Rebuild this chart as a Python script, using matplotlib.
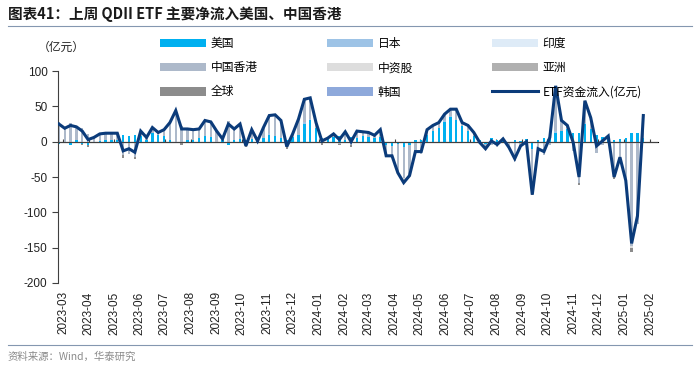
import numpy as np
import pandas as pd
import matplotlib
matplotlib.use("Agg")
import matplotlib.pyplot as plt
from matplotlib.patches import Patch
from matplotlib.lines import Line2D

plt.rcParams['font.family'] = ['Liberation Sans', 'Noto Sans CJK SC']
plt.rcParams['axes.unicode_minus'] = False

# weekly dates (Fridays)
weeks = pd.date_range('2023-02-24', periods=101, freq='7D')

# ETF 资金流入(亿元) - total line
etf_total = [25, 19, 23, 21, 15, 3, 6, 11, 12, 12, 12, -13, -10, -15, 15, 6, 20, 13, 17, 27,
             44, 18, 18, 17, 18, 30, 28, 15, 4, 25, 18, 25, -6, 17, 1, 20, 37, 38, 30, -7,
             11, 32, 60, 62, 27, 1, 5, 11, 3, 14, 0, 15, 14, 13, 9, 17, -20, -20, -44, -58,
             -48, -14, -14, 17, 23, 27, 39, 46, 46, 27, 23, 13, -1, -10, 1, -4, 4, -8, -24, -6,
             0, -75, -10, -14, 6, 79, 30, 23, -1, -50, 58, 34, -6, 1, 8, -50, -22, -55, -144, -105,
             37]

us = [-3, -2, -4, 2, -3, -5, -2, 1, 2, 3, 3, 10, 8, 9, 8, 3, 12, 10, 8, 2,
      0, -2, 3, 2, 5, 8, 6, -1, 3, -4, 2, 4, 2, 4, 3, 5, 10, 8, 5, 3,
      6, 10, 25, 30, 20, 5, 5, 6, 8, 3, 7, 5, 8, 6, 5, 6, -5, -6, -3, -8,
      -5, 2, 3, 10, 15, 20, 28, 35, 30, 22, 15, 8, 2, -3, 5, 3, 2, -2, 3, 1,
      4, -10, 3, 5, 10, 12, 15, 18, 12, 12, 25, 18, 10, 6, 4, 3, 4, 5, 12, 12,
      5]

hk = [28, 21, 27, 19, 20, 11, 8, 10, 10, 9, 9, -19, -18, -21, 7, 3, 8, 3, 9, 25,
      42, 22, 15, 15, 13, 22, 22, 16, 3, 29, 16, 21, -5, 13, -2, 15, 25, 30, 25, -7,
      5, 22, 32, 30, 7, -2, 0, 5, -3, 11, -4, 10, 6, 7, 4, 11, -13, -14, -38, -43,
      -43, -16, -17, 7, 8, 7, 8, 9, 16, 5, 8, 5, -3, -5, -4, -7, 2, -4, -27, -7,
      -4, -61, -13, -19, -4, 62, 15, 5, -13, -58, 30, 16, -16, -5, 4, -50, -26, -60, -147, -117,
      32]

japan = [0] * 101
india = [0] * 101
cn_stock = [0] * 101
asia = [0] * 101
glob = [0] * 101
korea = [0] * 101
for i, v in [(36, 2), (42, 3), (43, 2), (66, 2), (67, 2), (85, 3), (90, 2)]:
    japan[i] = v
india[66] = 1
for i, v in [(58, -3), (59, -4), (98, -4)]:
    cn_stock[i] = v
for i, v in [(20, 2), (85, 2)]:
    asia[i] = v
for i, v in [(4, -2), (5, -3), (11, -4), (13, -3), (21, -2), (28, -2), (32, -3), (39, -3),
             (45, -2), (48, -2), (50, -3), (56, -2), (59, -3), (73, -2), (77, -2), (81, -4),
             (89, -4), (95, -3), (98, -5)]:
    glob[i] = v
korea[90] = 1

series = [
    ("美国", us, "#00B0F0"),
    ("日本", japan, "#9DC3E6"),
    ("印度", india, "#DEEBF7"),
    ("中国香港", hk, "#ADB9CA"),
    ("中资股", cn_stock, "#DDDDDD"),
    ("亚洲", asia, "#B0B0B0"),
    ("全球", glob, "#8C8C8C"),
    ("韩国", korea, "#8EA9DB"),
]
line_color = "#0B3B7A"

fig = plt.figure(figsize=(7.0, 3.68), dpi=100)
ax = fig.add_axes([0.0829, 0.231, 0.8564, 0.576])

pos_b = np.zeros(len(weeks))
neg_b = np.zeros(len(weeks))
for name, vals, col in series:
    v = np.array(vals, dtype=float)
    bottom = np.where(v >= 0, pos_b, neg_b)
    ax.bar(weeks, v, bottom=bottom, width=2.8, color=col, zorder=2)
    pos_b += np.where(v >= 0, v, 0)
    neg_b += np.where(v < 0, v, 0)

ax.axhline(0, color="#404040", lw=0.8, zorder=2.5)
ax.plot(weeks, etf_total, color=line_color, lw=2.2, zorder=3, solid_joinstyle='miter')

ax.set_ylim(-200, 100)
ax.set_yticks(range(-200, 101, 50))
ax.set_xlim(pd.Timestamp('2023-02-23'), pd.Timestamp('2025-02-10'))
month_ticks = pd.date_range('2023-03-01', '2025-02-01', freq='MS')
ax.set_xticks(month_ticks)
ax.set_xticklabels([d.strftime('%Y-%m') for d in month_ticks], rotation=90, fontsize=8.5,
                   color="#222222")
ax.tick_params(axis='x', length=0, pad=6)
ax.tick_params(axis='y', labelsize=8.5, length=4, direction='out', color="#404040",
               labelcolor="#222222")
for s in ['top', 'right', 'bottom']:
    ax.spines[s].set_visible(False)
ax.spines['left'].set_color("#404040")
ax.spines['left'].set_linewidth(0.8)

# small tick marks on the zero line
sec = ax.secondary_xaxis(200 / 300)
sec.set_xticks(month_ticks)
sec.set_xticklabels([''] * len(month_ticks))
sec.tick_params(axis='x', length=2.5, color="#404040", labelbottom=False, labeltop=False)
sec.spines['bottom'].set_visible(False)

# legends (three columns)
cn_font = {'family': ['Noto Sans CJK SC'], 'size': 8.5}
cols = [
    [("美国", "#00B0F0"), ("中国香港", "#ADB9CA"), ("全球", "#8C8C8C")],
    [("日本", "#9DC3E6"), ("中资股", "#DDDDDD"), ("韩国", "#8EA9DB")],
    [("印度", "#DEEBF7"), ("亚洲", "#B0B0B0"), ("ETF资金流入(亿元)", None)],
]
col_x = [160, 327, 492]
for cx, entries in zip(col_x, cols):
    handles = []
    labels = []
    for lab, c in entries:
        if c is None:
            handles.append(Line2D([0], [0], color=line_color, lw=2.2))
        else:
            handles.append(Patch(facecolor=c, edgecolor='none'))
        labels.append(lab)
    fig.legend(handles, labels, loc='upper left', bbox_to_anchor=(cx / 700, 1 - 37 / 368),
               frameon=False, prop=cn_font, handlelength=3.9, handleheight=0.75,
               handletextpad=0.4, labelspacing=0.95, borderpad=0, borderaxespad=0)

fig.text(38 / 700, 1 - 47 / 368, "（亿元）", fontsize=8.5, va='center', ha='left',
         family=['Noto Sans CJK SC'], color="#222222")

# title and frame lines
fig.text(8 / 700, 1 - 14 / 368, "图表41：上周 QDII ETF 主要净流入美国、中国香港", fontsize=10.5,
         fontweight='bold', va='center', ha='left', family=['Noto Sans CJK SC'], color="#1a1a1a")
fig.add_artist(Line2D([8 / 700, 692 / 700], [1 - 26 / 368, 1 - 26 / 368], color="#8497B0", lw=0.8))
fig.add_artist(Line2D([8 / 700, 692 / 700], [1 - 345 / 368, 1 - 345 / 368], color="#8497B0", lw=0.8))
fig.text(8 / 700, 1 - 357 / 368, "资料来源：Wind，华泰研究", fontsize=7.5, va='center', ha='left',
         family=['Noto Sans CJK SC'], color="#8a8a8a")

fig.savefig("out.png", dpi=100)
